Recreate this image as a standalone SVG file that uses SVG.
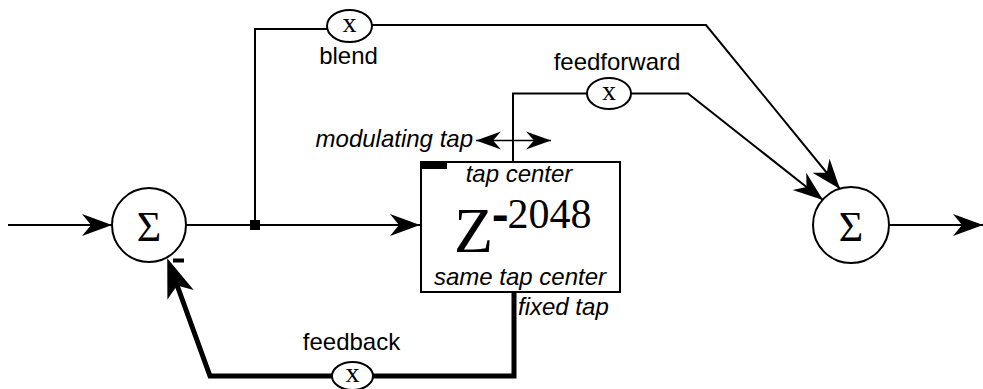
<svg xmlns="http://www.w3.org/2000/svg" width="983" height="389" viewBox="0 0 983 389">
<defs>
<style>
.ln{fill:none;stroke:#000;stroke-width:2}
.thick{fill:none;stroke:#000;stroke-width:5}
.thin{fill:none;stroke:#000;stroke-width:1.3}
.node{fill:#fff;stroke:#000;stroke-width:2}
.lbl{font-family:"Liberation Sans",Arial,sans-serif;font-size:24px;fill:#000}
.it{font-style:italic}
.ser{font-family:"Liberation Serif","Times New Roman",serif;fill:#000}
</style>
<marker id="ah" markerUnits="userSpaceOnUse" markerWidth="31" markerHeight="24" viewBox="0 0 31 24" refX="30" refY="12" orient="auto">
<path d="M0,1 L30,12 L0,23 L9,12 Z" fill="#000"/>
</marker>
<marker id="ahs" markerUnits="userSpaceOnUse" markerWidth="26" markerHeight="20" viewBox="0 0 26 20" refX="25" refY="10" orient="auto-start-reverse">
<path d="M0,1 L25,10 L0,19 L8,10 Z" fill="#000"/>
</marker>
<marker id="ahb" markerUnits="userSpaceOnUse" markerWidth="40" markerHeight="30" viewBox="0 0 40 30" refX="28" refY="15" orient="auto">
<path d="M0,1 L39,15 L0,29 L10,15 Z" fill="#000"/>
</marker>
</defs>

<g id="connectors">
<path class="ln" d="M8,225 H112" marker-end="url(#ah)"/>
<path class="ln" d="M186,225 H420" marker-end="url(#ah)"/>
<path class="ln" d="M255,225 V29 H327"/>
<path class="ln" d="M372,25 H706 L840,189" marker-end="url(#ah)"/>
<path class="ln" d="M513,162 V93.5 H587"/>
<path class="ln" d="M631,93.5 H688 L823,200" marker-end="url(#ah)"/>
<path class="ln" d="M889,225 H983" marker-end="url(#ah)"/>
<path class="thick" d="M514,292 V376 H373"/>
<path class="thick" d="M332,376 H210 L171,268.5" marker-end="url(#ahb)"/>
<path class="thin" d="M476,140.5 H551" marker-start="url(#ahs)" marker-end="url(#ahs)"/>
<rect x="250" y="220" width="10" height="10" fill="#000"/>
</g>

<g id="sum-in">
<circle class="node" cx="149" cy="225" r="37"/>
<text class="ser" x="149" y="241" font-size="42" text-anchor="middle">Σ</text>
<rect x="173" y="258.5" width="11" height="4" fill="#000"/>
</g>

<g id="sum-out">
<circle class="node" cx="851" cy="225" r="38"/>
<text class="ser" x="851" y="241" font-size="42" text-anchor="middle">Σ</text>
</g>

<g id="blend">
<ellipse class="node" cx="349.5" cy="26" rx="22.5" ry="16"/>
<text class="ser" x="349.5" y="32" font-size="28" text-anchor="middle">x</text>
<text class="lbl" x="348.5" y="64" text-anchor="middle">blend</text>
</g>

<g id="feedforward">
<ellipse class="node" cx="609" cy="93.5" rx="22" ry="15.5"/>
<text class="ser" x="609" y="100" font-size="28" text-anchor="middle">x</text>
<text class="lbl" x="617" y="70" text-anchor="middle">feedforward</text>
</g>

<g id="feedback">
<ellipse class="node" cx="352.5" cy="376" rx="20.5" ry="14"/>
<text class="ser" x="352.5" y="382" font-size="28" text-anchor="middle">x</text>
<text class="lbl" x="351.5" y="350" text-anchor="middle">feedback</text>
</g>

<g id="delay">
<rect class="node" x="421" y="162" width="199" height="130"/>
<rect x="420" y="161" width="27" height="8" fill="#000"/>
<text class="lbl it" x="519" y="182" text-anchor="middle">tap center</text>
<text class="ser" y="252"><tspan x="454" font-size="64">Z</tspan><tspan x="493.3" y="228" font-size="42" font-weight="bold" stroke="#000" stroke-width="2">-</tspan><tspan x="507.6" y="228" font-size="42">2048</tspan></text>
<text class="lbl it" x="520" y="285" text-anchor="middle">same tap center</text>
</g>

<g id="labels">
<text class="lbl it" x="473" y="147" text-anchor="end">modulating tap</text>
<text class="lbl it" x="518" y="315">fixed tap</text>
</g>
</svg>
